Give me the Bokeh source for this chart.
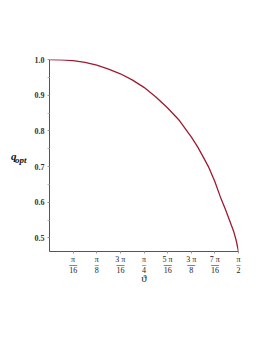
from math import pi
from bokeh.plotting import figure
from bokeh.models import Range1d, FixedTicker, LinearAxis
from bokeh.embed import file_html
from bokeh.resources import INLINE

# data (theta in radians)
theta = [0.0, 0.098, 0.196, 0.295, 0.393, 0.491, 0.589, 0.687, 0.785, 0.884,
         0.982, 1.080, 1.178, 1.230, 1.276, 1.325, 1.374, 1.420, 1.460, 1.500,
         1.530, 1.550, 1.571]
q_opt = [1.000, 0.999, 0.997, 0.992, 0.984, 0.973, 0.960, 0.943, 0.922, 0.895,
         0.864, 0.829, 0.783, 0.756, 0.728, 0.697, 0.658, 0.615, 0.582, 0.546,
         0.519, 0.495, 0.462]

x_ticks = [k * pi / 16 for k in range(1, 9)]
x_tick_num = ["π", "π", "3 π", "π", "5 π", "3 π", "7 π", "π"]
x_tick_den = ["16", "8", "16", "4", "16", "8", "16", "2"]
y_ticks = [0.5, 0.6, 0.7, 0.8, 0.9, 1.0]
y_tick_labels = ["0.5", "0.6", "0.7", "0.8", "0.9", "1.0"]
y_minor = [0.55, 0.65, 0.75, 0.85, 0.95]

FONT = "Liberation Serif"
AXIS = "#555555"
CURVE = "#9E1B32"

x0, x1 = 0.0, pi / 2
y0, y1 = min(q_opt), 1.0

p = figure(width=254, height=308, output_backend="svg", toolbar_location=None,
           x_range=Range1d(x0, x1), y_range=Range1d(y0, y1),
           min_border_left=49, min_border_right=16, min_border_top=59,
           min_border_bottom=57)
p.outline_line_color = None
p.xgrid.visible = False
p.ygrid.visible = False
p.background_fill_color = "white"
p.border_fill_color = "white"

p.line(theta, q_opt, line_color=CURVE, line_width=1.3)


def frac_label(num, den):
    wide = max(len(num), len(den)) > 1
    bar = "—" if wide else "–"
    return f"{num}\n{bar}\n{den}"


# x axis
xa = p.xaxis[0]
xa.ticker = FixedTicker(ticks=x_ticks, minor_ticks=[])
xa.major_label_overrides = {t: frac_label(n, d) for t, n, d in zip(x_ticks, x_tick_num, x_tick_den)}
xa.major_label_text_font = FONT
xa.major_label_text_font_size = "8px"
xa.major_label_text_color = "#222222"
xa.major_label_text_line_height = 0.62
xa.major_label_standoff = 1
xa.major_label_orientation = "horizontal"
xa.major_tick_in = 0
xa.major_tick_out = 2
xa.major_tick_line_color = "#999999"
xa.axis_line_color = AXIS
xa.axis_label = "ϑ"
xa.axis_label_text_font = FONT
xa.axis_label_text_font_style = "normal"
xa.axis_label_text_font_size = "11px"
xa.axis_label_text_color = "#222222"
xa.axis_label_standoff = -6

# y axis (its title carries the subscript "opt", pushed down one short line)
ya = p.yaxis[0]
ya.ticker = FixedTicker(ticks=y_ticks, minor_ticks=y_minor)
ya.major_label_overrides = dict(zip(y_ticks, y_tick_labels))
ya.major_label_text_font = FONT
ya.major_label_text_font_size = "8px"
ya.major_label_text_font_style = "bold"
ya.major_label_text_color = "#333333"
ya.major_label_standoff = 3
ya.major_tick_in = 0
ya.major_tick_out = 2
ya.minor_tick_in = 0
ya.minor_tick_out = 2
ya.major_tick_line_color = "#999999"
ya.minor_tick_line_color = "#bbbbbb"
ya.axis_line_color = AXIS
ya.axis_label = "\nopt"
ya.axis_label_orientation = "horizontal"
ya.axis_label_text_font = FONT
ya.axis_label_text_font_style = "bold italic"
ya.axis_label_text_font_size = "9px"
ya.axis_label_text_line_height = 0.9
ya.axis_label_text_color = "#111111"
ya.axis_label_standoff = 5

# outer left axis: only the main letter "q" of the title
qa = LinearAxis(ticker=FixedTicker(ticks=[], minor_ticks=[]),
                axis_line_color=None, major_tick_line_color=None,
                minor_tick_line_color=None, major_label_text_font_size="0px",
                major_label_standoff=0, major_tick_out=0, minor_tick_out=0,
                axis_label="q", axis_label_orientation="horizontal",
                axis_label_text_font=FONT, axis_label_text_font_style="bold italic",
                axis_label_text_font_size="11px", axis_label_text_color="#111111",
                axis_label_standoff=-5)
p.add_layout(qa, "left")

open("out.html", "w").write(file_html(p, INLINE))
